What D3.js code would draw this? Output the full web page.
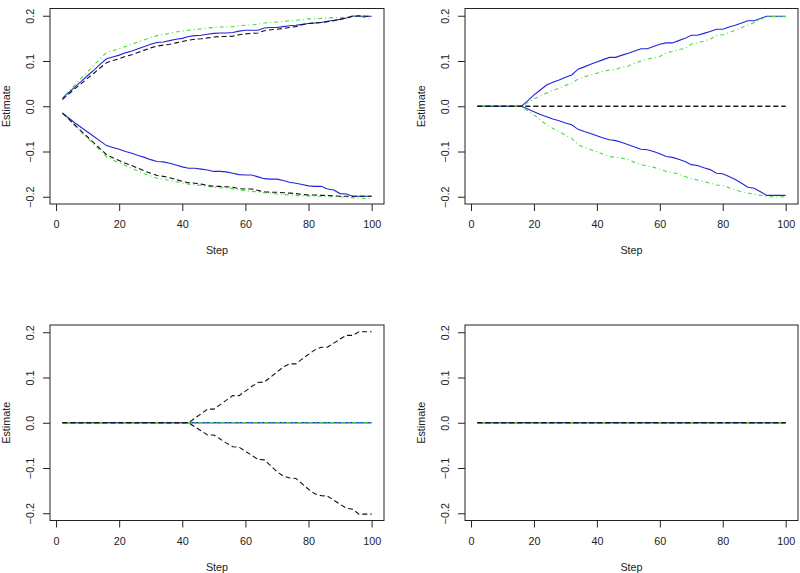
<!DOCTYPE html>
<html><head><meta charset="utf-8">
<script src="https://cdn.jsdelivr.net/npm/d3@7"></script>
<style>
html,body{margin:0;padding:0;background:#fff;}
svg{display:block;font-family:"Liberation Sans",Arial,sans-serif;}
</style></head>
<body>
<svg id="chart" width="800" height="573"></svg>
<script>
// ---------- data ----------
const steps = [2,4,6,8,10,12,14,16,18,20,22,24,26,28,30,32,34,36,38,40,
  42,44,46,48,50,52,54,56,58,60,62,64,66,68,70,72,74,76,78,80,
  82,84,86,88,90,92,94,96,98,100];
const xTicks = [0,20,40,60,80,100];
const yTicks = [-0.2,-0.1,0.0,0.1,0.2];
const yTickLabels = ["\u22120.2","\u22120.1","0.0","0.1","0.2"];
const xLabel = "Step";
const yLabel = "Estimate";

const zeros = [0,0,0,0,0,0,0,0,0,0, 0,0,0,0,0,0,0,0,0,0, 0,0,0,0,0,0,0,0,0,0,
  0,0,0,0,0,0,0,0,0,0, 0,0,0,0,0,0,0,0,0,0];

// panel 1
const p1BlueUp = [0.018,0.030,0.043,0.055,0.068,0.080,0.093,0.105,0.109,0.113,
  0.118,0.122,0.127,0.132,0.137,0.141,0.142,0.145,0.148,0.150,
  0.154,0.156,0.157,0.159,0.161,0.162,0.162,0.163,0.166,0.168,
  0.168,0.168,0.173,0.174,0.174,0.176,0.178,0.179,0.181,0.183,
  0.184,0.185,0.188,0.190,0.192,0.195,0.199,0.199,0.199,0.199];
const p1BlackUp = [0.015,0.027,0.039,0.050,0.062,0.073,0.085,0.096,0.101,0.105,
  0.110,0.114,0.119,0.124,0.129,0.133,0.135,0.137,0.140,0.143,
  0.146,0.148,0.149,0.151,0.153,0.154,0.154,0.155,0.158,0.160,
  0.161,0.162,0.167,0.169,0.170,0.172,0.174,0.176,0.180,0.183,
  0.184,0.185,0.187,0.189,0.192,0.195,0.199,0.200,0.199,0.199];
const p1GreenUp = [0.018,0.033,0.047,0.062,0.076,0.091,0.105,0.119,0.123,0.127,
  0.132,0.137,0.142,0.147,0.152,0.156,0.158,0.161,0.164,0.166,
  0.168,0.170,0.171,0.173,0.174,0.175,0.175,0.176,0.178,0.179,
  0.180,0.181,0.184,0.185,0.186,0.187,0.189,0.190,0.191,0.193,
  0.193,0.194,0.195,0.196,0.196,0.197,0.200,0.199,0.195,0.194];
const p1BlueLo = [-0.015,-0.026,-0.037,-0.047,-0.057,-0.067,-0.077,-0.087,-0.091,-0.095,
  -0.100,-0.104,-0.109,-0.113,-0.118,-0.122,-0.123,-0.126,-0.130,-0.134,
  -0.137,-0.137,-0.139,-0.141,-0.144,-0.144,-0.145,-0.148,-0.151,-0.152,
  -0.152,-0.156,-0.160,-0.161,-0.161,-0.164,-0.168,-0.170,-0.173,-0.176,
  -0.177,-0.177,-0.183,-0.185,-0.193,-0.194,-0.199,-0.199,-0.199,-0.199];
const p1BlackLo = [-0.015,-0.028,-0.042,-0.055,-0.068,-0.081,-0.094,-0.107,-0.114,-0.120,
  -0.126,-0.131,-0.137,-0.143,-0.148,-0.153,-0.155,-0.158,-0.162,-0.166,
  -0.169,-0.170,-0.172,-0.175,-0.177,-0.177,-0.178,-0.179,-0.182,-0.183,
  -0.183,-0.186,-0.189,-0.190,-0.190,-0.191,-0.192,-0.193,-0.195,-0.196,
  -0.196,-0.197,-0.197,-0.198,-0.199,-0.199,-0.199,-0.199,-0.199,-0.199];
const p1GreenLo = [-0.015,-0.029,-0.043,-0.057,-0.071,-0.084,-0.098,-0.112,-0.119,-0.125,
  -0.131,-0.137,-0.143,-0.149,-0.154,-0.159,-0.161,-0.164,-0.167,-0.170,
  -0.172,-0.174,-0.175,-0.177,-0.179,-0.180,-0.181,-0.182,-0.185,-0.187,
  -0.188,-0.189,-0.191,-0.192,-0.194,-0.195,-0.196,-0.197,-0.198,-0.198,
  -0.199,-0.199,-0.200,-0.200,-0.200,-0.201,-0.202,-0.203,-0.204,-0.204];

// panel 2
const p2BlueUp = [0,0,0,0,0,0,0,0,0.012,0.025,
  0.036,0.047,0.053,0.058,0.064,0.069,0.082,0.087,0.093,0.098,
  0.103,0.108,0.108,0.113,0.117,0.122,0.127,0.127,0.132,0.137,
  0.140,0.140,0.145,0.150,0.157,0.157,0.161,0.165,0.170,0.170,
  0.175,0.179,0.184,0.189,0.189,0.194,0.199,0.199,0.199,0.199];
const p2GreenUp = [0,0,0,0,0,0,0,0,0.008,0.016,
  0.023,0.029,0.035,0.040,0.046,0.051,0.060,0.065,0.069,0.073,
  0.077,0.080,0.082,0.086,0.089,0.095,0.100,0.104,0.107,0.110,
  0.118,0.121,0.125,0.128,0.137,0.140,0.144,0.148,0.157,0.158,
  0.163,0.168,0.174,0.179,0.185,0.192,0.198,0.198,0.198,0.198];
const p2BlueLo = [0,0,0,0,0,0,0,0,-0.006,-0.012,
  -0.018,-0.023,-0.028,-0.032,-0.037,-0.041,-0.051,-0.056,-0.060,-0.065,
  -0.070,-0.074,-0.076,-0.080,-0.085,-0.090,-0.095,-0.096,-0.100,-0.105,
  -0.111,-0.113,-0.117,-0.122,-0.129,-0.131,-0.136,-0.140,-0.148,-0.149,
  -0.155,-0.162,-0.170,-0.179,-0.181,-0.189,-0.197,-0.197,-0.197,-0.197];
const p2GreenLo = [0,0,0,0,0,0,0,0,-0.010,-0.019,
  -0.030,-0.041,-0.049,-0.056,-0.064,-0.071,-0.085,-0.091,-0.096,-0.100,
  -0.106,-0.111,-0.113,-0.115,-0.118,-0.124,-0.129,-0.132,-0.135,-0.139,
  -0.144,-0.146,-0.150,-0.155,-0.160,-0.163,-0.167,-0.170,-0.174,-0.175,
  -0.180,-0.185,-0.189,-0.192,-0.194,-0.197,-0.200,-0.200,-0.200,-0.200];

// panel 3
const p3BlackUp = [0,0,0,0,0,0,0,0,0,0,
  0,0,0,0,0,0,0,0,0,0,
  0,0.010,0.020,0.030,0.030,0.040,0.050,0.060,0.060,0.070,
  0.080,0.089,0.090,0.101,0.112,0.123,0.130,0.130,0.141,0.151,
  0.161,0.167,0.167,0.176,0.185,0.193,0.193,0.201,0.201,0.201];
const p3BlackLo = [0,0,0,0,0,0,0,0,0,0,
  0,0,0,0,0,0,0,0,0,0,
  0,-0.009,-0.018,-0.027,-0.027,-0.036,-0.045,-0.053,-0.054,-0.063,
  -0.072,-0.081,-0.082,-0.095,-0.108,-0.118,-0.122,-0.123,-0.135,-0.147,
  -0.157,-0.161,-0.162,-0.171,-0.180,-0.189,-0.191,-0.202,-0.202,-0.202];

// ---------- styles ----------
const BLUE = "#2424dc", GREEN = "#44dd44", BLACK = "#111111";
const style = {
  blue:  {color: BLUE,  dash: null},
  green: {color: GREEN, dash: "1,3,4,3"},
  black: {color: BLACK, dash: "5,3"}
};

const panels = [
  {box: {l: 50,  t: 8.5, r: 384, b: 204},
   series: [["blue",p1BlueUp],["blue",p1BlueLo],["green",p1GreenUp],["green",p1GreenLo],["black",p1BlackUp],["black",p1BlackLo]]},
  {box: {l: 465, t: 8.5, r: 798, b: 204},
   series: [["blue",p2BlueUp],["blue",p2BlueLo],["green",p2GreenUp],["green",p2GreenLo],["black",zeros],["black",zeros]]},
  {box: {l: 50,  t: 325, r: 384, b: 520.5},
   series: [["blue",zeros],["blue",zeros],["green",zeros],["green",zeros],["black",p3BlackUp],["black",p3BlackLo]]},
  {box: {l: 465, t: 325, r: 798, b: 520.5},
   series: [["blue",zeros],["blue",zeros],["green",zeros],["green",zeros],["black",zeros],["black",zeros]]}
];

const svg = d3.select("#chart");
const FONT = 10.8, AXC = "#222";

panels.forEach(p => {
  const {l, t, r, b} = p.box;
  const x = d3.scaleLinear().domain([-1.92, 103.92]).range([l, r]);
  const y = d3.scaleLinear().domain([-0.216, 0.216]).range([b, t]);
  const g = svg.append("g");

  const line = d3.line().x((d, i) => x(steps[i])).y(d => y(d));
  p.series.forEach(([kind, vals]) => {
    const s = style[kind];
    g.append("path").datum(vals)
      .attr("d", line)
      .attr("fill", "none")
      .attr("stroke", s.color)
      .attr("stroke-width", 1.1)
      .attr("stroke-dasharray", s.dash);
  });

  // box
  g.append("rect").attr("x", l).attr("y", t).attr("width", r - l).attr("height", b - t)
    .attr("fill", "none").attr("stroke", AXC).attr("stroke-width", 1);

  // x axis
  const gx = g.append("g").attr("transform", `translate(0,${b})`)
    .call(d3.axisBottom(x).tickValues(xTicks).tickSize(7).tickFormat(d3.format("d")));
  gx.select(".domain").remove();
  gx.selectAll("line").attr("stroke", AXC);
  gx.selectAll("text").attr("y", 24).attr("dy", 0)
    .attr("font-size", FONT).attr("fill", AXC).attr("font-family", "Liberation Sans, Arial, sans-serif");

  // y axis
  const gy = g.append("g").attr("transform", `translate(${l},0)`)
    .call(d3.axisLeft(y).tickValues(yTicks).tickSize(7).tickFormat((d, i) => yTickLabels[i]));
  gy.select(".domain").remove();
  gy.selectAll("line").attr("stroke", AXC);
  gy.selectAll("text").attr("x", 0).attr("y", 0).attr("dy", 0)
    .attr("transform", "translate(-16,0) rotate(-90)")
    .attr("text-anchor", "middle")
    .attr("font-size", FONT).attr("fill", AXC).attr("font-family", "Liberation Sans, Arial, sans-serif");

  // axis titles
  g.append("text").attr("x", (l + r) / 2).attr("y", b + 50)
    .attr("text-anchor", "middle").attr("font-size", FONT).attr("fill", AXC).text(xLabel);
  g.append("text").attr("transform", `translate(${l - 40.5},${(t + b) / 2}) rotate(-90)`)
    .attr("text-anchor", "middle").attr("font-size", FONT).attr("fill", AXC).text(yLabel);
});
</script>
</body></html>
